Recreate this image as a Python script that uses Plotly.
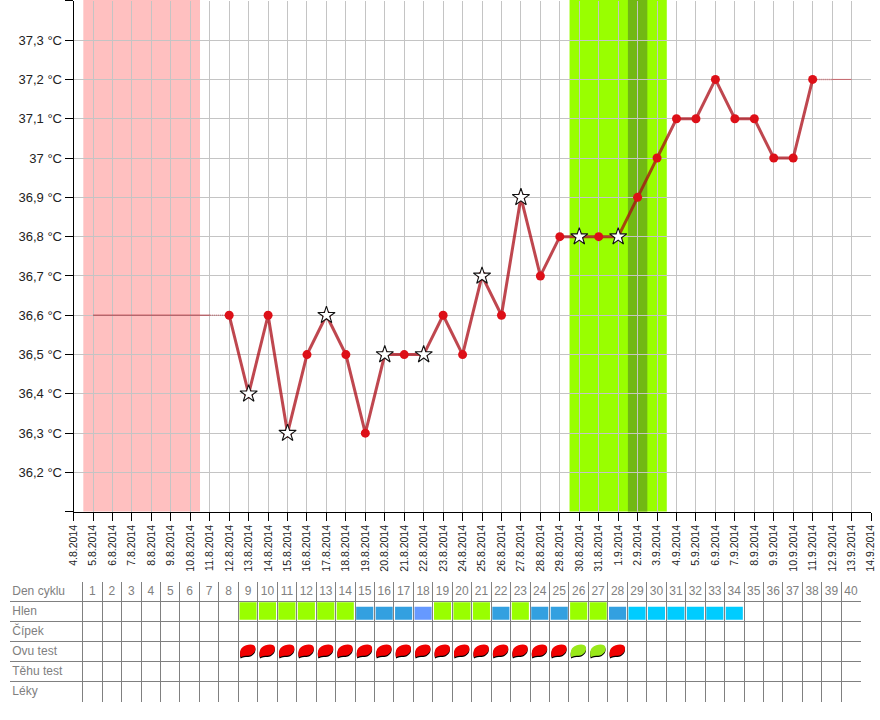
import plotly.graph_objects as go
from datetime import date, timedelta

start = date(2014, 8, 4)
tick_dates = [start + timedelta(days=i) for i in range(42)]
tick_labels = [f"{d.day}.{d.month}.{d.year}" for d in tick_dates]

temp_dates = [date(2014, 8, 12) + timedelta(days=i) for i in range(31)]
temps = [36.6, 36.4, 36.6, 36.3, 36.5, 36.6, 36.5, 36.3, 36.5, 36.5, 36.5, 36.6, 36.5, 36.7, 36.6, 36.9,
         36.7, 36.8, 36.8, 36.8, 36.8, 36.9, 37.0, 37.1, 37.1, 37.2, 37.1, 37.1, 37.0, 37.0, 37.2]
star_days = [date(2014, 8, 13), date(2014, 8, 15), date(2014, 8, 17), date(2014, 8, 20), date(2014, 8, 22),
             date(2014, 8, 25), date(2014, 8, 27), date(2014, 8, 30), date(2014, 9, 1)]
lead_dates = [date(2014, 8, 5), date(2014, 8, 11)]
lead_temp = [36.6, 36.6]
lead_dot_dates = [date(2014, 8, 11), date(2014, 8, 12)]
trail_dot_dates = [date(2014, 9, 11), date(2014, 9, 12)]
trail_dates = [date(2014, 9, 12), date(2014, 9, 13)]
trail_temp = [37.2, 37.2]

y_ticks = [36.2, 36.3, 36.4, 36.5, 36.6, 36.7, 36.8, 36.9, 37.0, 37.1, 37.2, 37.3]
y_labels = ["36,2 °C", "36,3 °C", "36,4 °C", "36,5 °C", "36,6 °C", "36,7 °C", "36,8 °C", "36,9 °C",
            "37 °C", "37,1 °C", "37,2 °C", "37,3 °C"]

bands = [("2014-08-04 12:00", "2014-08-10 12:00", "#ffc0c0"),
         ("2014-08-29 12:00", "2014-09-03 12:00", "#99ff00"),
         ("2014-09-01 12:00", "2014-09-02 12:00", "#72b814")]

row_labels = ["Den cyklu", "Hlen", "Čípek", "Ovu test", "Těhu test", "Léky"]
cycle_days = list(range(1, 41))
hlen_days = list(range(9, 35))
hlen_kinds = ["g", "g", "g", "g", "g", "g", "b", "b", "b", "p", "g", "g", "g", "b", "g", "b", "b", "g", "g", "b",
              "c", "c", "c", "c", "c", "c"]
hlen_colors = {"g": "#99ff00", "b": "#33a0e0", "p": "#6699ff", "c": "#00ccff"}
hlen_heights = {"g": 0.87, "b": 0.65, "p": 0.65, "c": 0.65}
ovu_days = list(range(9, 29))
ovu_results = ["n"] * 17 + ["p", "p", "n"]
ovu_colors = {"n": "#f00000", "p": "#99e81a"}

fig = go.Figure()
W, H = 880, 720

line_col = "rgba(170,10,20,0.75)"
fig.add_trace(go.Scatter(x=lead_dates, y=lead_temp, mode="lines", line=dict(color="rgba(170,40,50,0.6)", width=1.5), hoverinfo="skip"))
fig.add_trace(go.Scatter(x=lead_dot_dates, y=lead_temp, mode="lines", line=dict(color="rgba(170,40,50,0.6)", width=1.5, dash="1px,1px"), hoverinfo="skip"))
fig.add_trace(go.Scatter(x=trail_dot_dates, y=trail_temp, mode="lines", line=dict(color="rgba(200,40,50,0.6)", width=1.5, dash="1px,1px"), hoverinfo="skip"))
fig.add_trace(go.Scatter(x=trail_dates, y=trail_temp, mode="lines", line=dict(color="rgba(200,40,50,0.6)", width=1), hoverinfo="skip"))
fig.add_trace(go.Scatter(x=temp_dates, y=temps, mode="lines+markers", line=dict(color=line_col, width=3),
                         marker=dict(color="#dd1018", size=9)))
star_y = [temps[temp_dates.index(d)] for d in star_days]
fig.add_trace(go.Scatter(x=star_days, y=star_y, mode="markers",
                         marker=dict(symbol="star", color="white", size=13, line=dict(color="#111111", width=1.1))))

# table
fig.add_trace(go.Scatter(x=[c - 0.5 for c in cycle_days], y=[0.5] * len(cycle_days), mode="text",
                         text=[str(c) for c in cycle_days], textfont=dict(family="Liberation Sans", size=12, color="#808080"),
                         xaxis="x2", yaxis="y2"))
fig.add_trace(go.Scatter(x=[-3.62] * len(row_labels), y=[i + 0.53 for i in range(6)], mode="text", text=row_labels,
                         textposition="middle right", textfont=dict(family="Liberation Sans", size=12, color="#808080"),
                         xaxis="x2", yaxis="y2"))
fig.add_trace(go.Bar(x=[d - 0.5 for d in hlen_days], base=[1.9] * len(hlen_days),
                     y=[-hlen_heights[k] for k in hlen_kinds], width=0.88,
                     marker=dict(color=[hlen_colors[k] for k in hlen_kinds], line=dict(width=0)),
                     xaxis="x2", yaxis="y2"))

# leaf glyph, in fractions of a table cell, placed from the test arrays
glyph = [("M", -0.38, 0.30), ("C", -0.44, 0.10), ("", -0.44, -0.20), ("", -0.10, -0.30),
         ("C", 0.10, -0.36), ("", 0.36, -0.36), ("", 0.38, -0.18),
         ("C", 0.40, 0.02), ("", 0.24, 0.20), ("", 0.00, 0.22),
         ("C", -0.14, 0.22), ("", -0.28, 0.24), ("", -0.38, 0.30)]
shapes = []
for x0, x1, col in bands:
    shapes.append(dict(type="rect", xref="x", yref="paper", x0=x0, x1=x1, y0=(H - 511.5) / H, y1=1,
                       fillcolor=col, line=dict(width=0), layer="below"))
for day, res in zip(ovu_days, ovu_results):
    cx, cy = day - 0.5, 3.48
    for dy, col in ((0.06, "#000000"), (0, ovu_colors[res])):
        path = " ".join(f"{c} {cx + gx:.3f},{cy + gy + dy:.3f}" for c, gx, gy in glyph) + " Z"
        shapes.append(dict(type="path", xref="x2", yref="y2", path=path, fillcolor=col, line=dict(width=0), layer="above"))

fig.update_layout(
    width=W, height=H, margin=dict(l=0, r=0, t=0, b=0, autoexpand=False), showlegend=False, paper_bgcolor="white", plot_bgcolor="white",
    shapes=shapes, barmode="overlay",
    font=dict(family="Liberation Sans", color="#222222"),
    xaxis=dict(domain=[73.6 / W, 871 / W], type="date", range=[tick_dates[0], tick_dates[-1]], tickmode="array",
               tickvals=tick_dates, ticktext=tick_labels, tickangle=-90, ticks="outside", ticklen=8, tickcolor="black",
               tickfont=dict(size=10.5, color="#222222"), showgrid=True, gridcolor="#c4c4c4", gridwidth=1, automargin=False,
               showline=True, linecolor="black", linewidth=1, zeroline=False, anchor="y"),
    yaxis=dict(domain=[(H - 511.8) / H, (H - 0.8) / H], range=[36.1, 37.4], tickmode="array", tickvals=[36.1] + y_ticks + [37.4],
               ticktext=[""] + y_labels + [""], ticks="outside", ticklen=8, tickcolor="black", automargin=False,
               tickfont=dict(size=13, color="#222222"), showgrid=True, gridcolor="#c4c4c4", gridwidth=1,
               showline=True, linecolor="black", linewidth=1, zeroline=False, anchor="x"),
    xaxis2=dict(domain=[10 / W, 860.7 / W], range=[-72.7 / 19.45, 40], tickmode="array", tickvals=list(range(41)), automargin=False,
                showticklabels=False, showgrid=True, gridcolor="#808080", gridwidth=1, zeroline=False, anchor="y2"),
    yaxis2=dict(domain=[(H - 701.7) / H, (H - 581.7) / H], range=[6, 0], tickmode="array", tickvals=list(range(7)), automargin=False,
                showticklabels=False, showgrid=True, gridcolor="#808080", gridwidth=1, zeroline=False, anchor="x2"),
)
fig.write_html("out.html", config={"displayModeBar": False},
               post_script="document.body.style.margin='0';document.body.style.overflow='hidden';")
